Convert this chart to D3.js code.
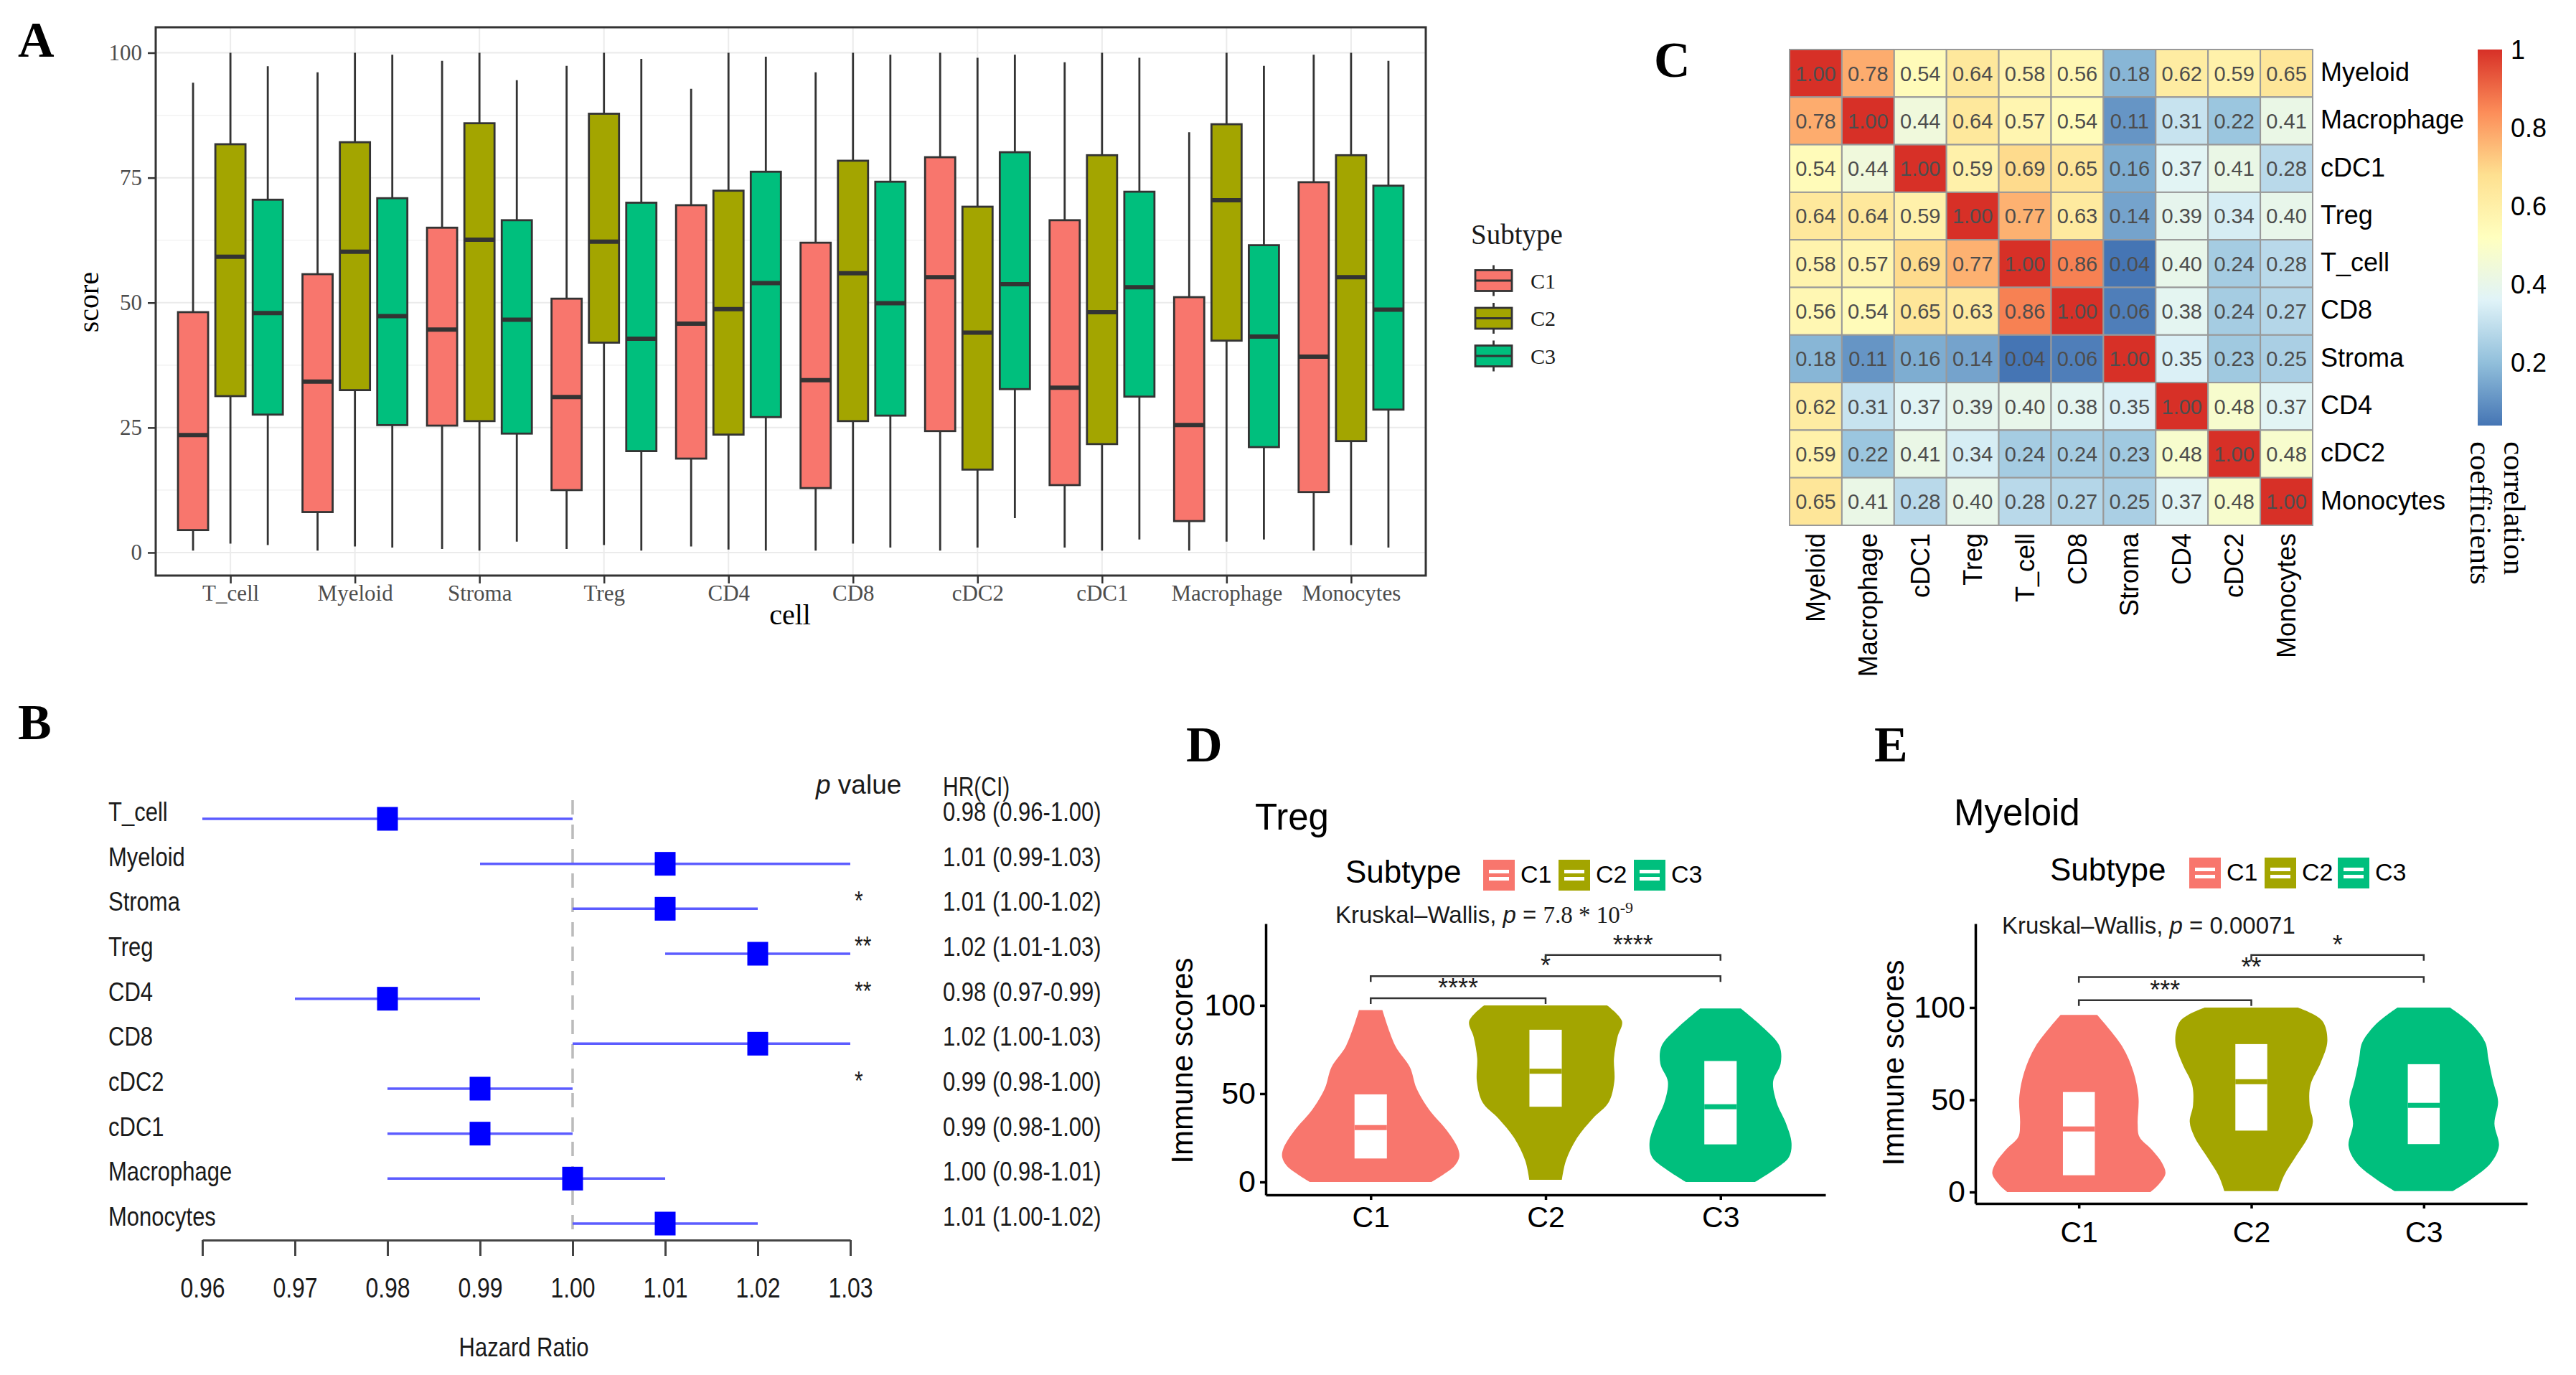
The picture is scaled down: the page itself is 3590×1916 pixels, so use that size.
<!DOCTYPE html>
<html>
<head>
<meta charset="utf-8">
<script src="https://cdn.jsdelivr.net/npm/d3@7"></script>
<style>
  body { margin: 0; background: #fff; }
</style>
</head>
<body>
<svg id="fig"></svg>
<script>

// ---------------- data ----------------
const cells = ["T_cell", "Myeloid", "Stroma", "Treg", "CD4", "CD8", "cDC2", "cDC1", "Macrophage", "Monocytes"];
const subtypes = ["C1", "C2", "C3"];
const subtypeColors = ["#F8766D", "#A3A500", "#00BF7D"];

// [min, q1, median, q3, max] per cell, same order as cells
const boxC1 = [[0.4, 4.5, 23.5, 48.1, 94.0], [0.4, 8.1, 34.2, 55.7, 96.1], [0.7, 25.4, 44.6, 65.0, 98.4],
  [0.7, 12.5, 31.1, 50.8, 97.4], [1.2, 18.8, 45.8, 69.5, 92.8], [0.4, 12.9, 34.5, 62.0, 96.1],
  [0.4, 24.3, 55.1, 79.1, 100], [1.0, 13.5, 33.0, 66.5, 98.1], [0.4, 6.3, 25.5, 51.1, 84.1],
  [0.4, 12.1, 39.2, 74.1, 99.6]];
const boxC2 = [[1.8, 31.3, 59.2, 81.7, 100], [1.2, 32.5, 60.2, 82.1, 100], [0.4, 26.3, 62.6, 85.9, 100],
  [1.5, 42.0, 62.2, 87.8, 100], [0.6, 23.6, 48.7, 72.4, 100], [1.8, 26.3, 55.9, 78.4, 100],
  [1.0, 16.6, 44.0, 69.2, 99.0], [0.4, 21.7, 48.1, 79.5, 100], [2.2, 42.4, 70.5, 85.7, 100],
  [1.5, 22.3, 55.1, 79.5, 100]];
const boxC3 = [[1.5, 27.6, 47.9, 70.6, 97.3], [1.0, 25.5, 47.3, 70.9, 99.6], [2.2, 23.8, 46.6, 66.5, 94.5],
  [0.4, 20.3, 42.8, 70.0, 98.8], [0.4, 27.1, 53.9, 76.2, 99.2], [1.0, 27.4, 49.9, 74.2, 99.6],
  [6.9, 32.7, 53.7, 80.1, 99.6], [2.6, 31.2, 53.1, 72.2, 99.0], [2.6, 21.1, 43.2, 61.5, 97.4],
  [1.0, 28.6, 48.6, 73.4, 98.4]];
const scoreTicks = [0, 25, 50, 75, 100];
const scoreMinor = [12.5, 37.5, 62.5, 87.5];

// forest plot (same order as cells)
const hr     = [0.98, 1.01, 1.01, 1.02, 0.98, 1.02, 0.99, 0.99, 1.00, 1.01];
const hrLow  = [0.96, 0.99, 1.00, 1.01, 0.97, 1.00, 0.98, 0.98, 0.98, 1.00];
const hrHigh = [1.00, 1.03, 1.02, 1.03, 0.99, 1.03, 1.00, 1.00, 1.01, 1.02];
const pStars = ["", "", "*", "**", "**", "", "*", "", "", ""];
const hrTicks = [0.96, 0.97, 0.98, 0.99, 1.00, 1.01, 1.02, 1.03];

// correlation heatmap
const corrLabels = ["Myeloid", "Macrophage", "cDC1", "Treg", "T_cell", "CD8", "Stroma", "CD4", "cDC2", "Monocytes"];
const corrMatrix = [
  [1.00, 0.78, 0.54, 0.64, 0.58, 0.56, 0.18, 0.62, 0.59, 0.65],
  [0.78, 1.00, 0.44, 0.64, 0.57, 0.54, 0.11, 0.31, 0.22, 0.41],
  [0.54, 0.44, 1.00, 0.59, 0.69, 0.65, 0.16, 0.37, 0.41, 0.28],
  [0.64, 0.64, 0.59, 1.00, 0.77, 0.63, 0.14, 0.39, 0.34, 0.40],
  [0.58, 0.57, 0.69, 0.77, 1.00, 0.86, 0.04, 0.40, 0.24, 0.28],
  [0.56, 0.54, 0.65, 0.63, 0.86, 1.00, 0.06, 0.38, 0.24, 0.27],
  [0.18, 0.11, 0.16, 0.14, 0.04, 0.06, 1.00, 0.35, 0.23, 0.25],
  [0.62, 0.31, 0.37, 0.39, 0.40, 0.38, 0.35, 1.00, 0.48, 0.37],
  [0.59, 0.22, 0.41, 0.34, 0.24, 0.24, 0.23, 0.48, 1.00, 0.48],
  [0.65, 0.41, 0.28, 0.40, 0.28, 0.27, 0.25, 0.37, 0.48, 1.00]];
const corrColors = ["#4575B4", "#91BFDB", "#E0F3F8", "#FFFFBF", "#FEE090", "#FC8D59", "#D73027"];
const corrLegendTicks = [0.2, 0.4, 0.6, 0.8, 1];

// violins: [score, half width as share of the group step]
const tregViolin = [
  [[0, 0.347], [9, 0.478], [14, 0.506], [19, 0.499], [29, 0.437], [41, 0.334], [53, 0.262], [65, 0.224], [77, 0.141], [97.3, 0.067]],
  [[1.2, 0.093], [12, 0.116], [25, 0.18], [36, 0.27], [45, 0.36], [57, 0.393], [70, 0.391], [82, 0.411], [91, 0.437], [100, 0.352]],
  [[0, 0.198], [7, 0.308], [14, 0.391], [22, 0.406], [33, 0.375], [45, 0.321], [57, 0.301], [67, 0.344], [77, 0.337], [87, 0.249], [98.3, 0.116]]];
const tregBox = [[13.3, 30.8, 49.6], [42.6, 62.7, 86.2], [21.3, 42.6, 68.5]];
const tregBrackets = [["C1", "C2", 104, "****"], ["C1", "C3", 116.5, "*"], ["C2", "C3", 128.5, "****"]];

const myeloidViolin = [
  [[0, 0.415], [4, 0.462], [10, 0.502], [16, 0.481], [23, 0.423], [30, 0.351], [37, 0.341], [51, 0.346], [65, 0.317], [79, 0.251], [96, 0.106]],
  [[0.5, 0.156], [9, 0.19], [19, 0.256], [30, 0.33], [38, 0.357], [47, 0.338], [58, 0.343], [70, 0.402], [82, 0.441], [93, 0.41], [100, 0.27]],
  [[0.5, 0.169], [7, 0.277], [16, 0.391], [25, 0.436], [37, 0.41], [49, 0.431], [60, 0.402], [72, 0.375], [81, 0.357], [91, 0.277], [100, 0.153]]];
const myeloidBox = [[9.1, 34.2, 54.2], [33.3, 59.8, 80.2], [26.0, 47.0, 69.3]];
const myeloidBrackets = [["C1", "C2", 104, "***"], ["C1", "C3", 116.5, "**"], ["C2", "C3", 128.5, "*"]];
const immuneTicks = [0, 50, 100];

// ---------------- setup ----------------
const W = 3590, H = 1916;
const SERIF = "'Liberation Serif','Times New Roman',serif";
const SANS = "'Liberation Sans',Arial,Helvetica,sans-serif";

const svg = d3.select("#fig").attr("width", W).attr("height", H);
svg.append("rect").attr("width", W).attr("height", H).attr("fill", "#fff");

function panelLabel(t, x, y) {
  svg.append("text").attr("x", x).attr("y", y).text(t)
     .attr("font-family", SERIF).attr("font-weight", "bold").attr("font-size", 70).attr("fill", "#000");
}
panelLabel("A", 25, 79);
panelLabel("B", 25, 1030);
panelLabel("C", 2305, 107);
panelLabel("D", 1653, 1061);
panelLabel("E", 2612, 1061);

// ---------------- panel A ----------------
const gA = svg.append("g");
const xA = d3.scalePoint().domain(cells).range([217, 1987]).padding(0.6);
const yA = d3.scaleLinear().domain([-4.6, 105.1]).range([802, 38]);
const stepA = xA.step();

gA.selectAll(".gminor").data(scoreMinor).join("line").attr("class", "gminor")
  .attr("x1", 217).attr("x2", 1987).attr("y1", d => yA(d)).attr("y2", d => yA(d))
  .attr("stroke", "#F0F0F0").attr("stroke-width", 1.2);
gA.selectAll(".gmajor").data(scoreTicks).join("line").attr("class", "gmajor")
  .attr("x1", 217).attr("x2", 1987).attr("y1", d => yA(d)).attr("y2", d => yA(d))
  .attr("stroke", "#EBEBEB").attr("stroke-width", 2);
gA.selectAll(".gvert").data(cells).join("line").attr("class", "gvert")
  .attr("x1", d => xA(d)).attr("x2", d => xA(d)).attr("y1", 38).attr("y2", 802)
  .attr("stroke", "#EBEBEB").attr("stroke-width", 2);

const boxSets = [boxC1, boxC2, boxC3];
const dodgeA = [-0.3, 0, 0.3];
const bwA = 0.242 * stepA;
boxSets.forEach((set, k) => {
  const items = gA.append("g").selectAll("g").data(set).join("g")
    .attr("transform", (d, i) => `translate(${xA(cells[i]) + dodgeA[k] * stepA},0)`);
  items.append("line")
    .attr("y1", d => yA(d[0])).attr("y2", d => yA(d[4]))
    .attr("stroke", "#333").attr("stroke-width", 2.8);
  items.append("rect")
    .attr("x", -bwA / 2).attr("width", bwA)
    .attr("y", d => yA(d[3])).attr("height", d => yA(d[1]) - yA(d[3]))
    .attr("fill", subtypeColors[k]).attr("stroke", "#333").attr("stroke-width", 2.8);
  items.append("line")
    .attr("x1", -bwA / 2).attr("x2", bwA / 2)
    .attr("y1", d => yA(d[2])).attr("y2", d => yA(d[2]))
    .attr("stroke", "#333").attr("stroke-width", 6);
});

gA.append("rect").attr("x", 217).attr("y", 38).attr("width", 1770).attr("height", 764)
  .attr("fill", "none").attr("stroke", "#333").attr("stroke-width", 3);

const axLA = gA.append("g").attr("transform", "translate(217,0)")
  .call(d3.axisLeft(yA).tickValues(scoreTicks).tickSize(11).tickPadding(8));
axLA.select(".domain").remove();
axLA.attr("font-family", SERIF).attr("font-size", 31);
axLA.selectAll("line").attr("stroke", "#333").attr("stroke-width", 2.5);
axLA.selectAll("text").attr("fill", "#4D4D4D");

const axBA = gA.append("g").attr("transform", "translate(0,802)")
  .call(d3.axisBottom(xA).tickSize(11));
axBA.select(".domain").remove();
axBA.attr("font-family", SERIF).attr("font-size", 31);
axBA.selectAll("line").attr("stroke", "#333").attr("stroke-width", 2.5);
axBA.selectAll("text").attr("fill", "#4D4D4D").attr("y", 35).attr("dy", 0);

gA.append("text").attr("x", 1101).attr("y", 870).attr("text-anchor", "middle")
  .attr("font-family", SERIF).attr("font-size", 40).text("cell");
gA.append("text").attr("transform", "translate(123,421) rotate(-90)").attr("dy", "0.35em")
  .attr("text-anchor", "middle").attr("font-family", SERIF).attr("font-size", 40).text("score");

// legend A
const legA = gA.append("g");
legA.append("text").attr("x", 2050).attr("y", 340).attr("font-family", SERIF).attr("font-size", 39)
  .attr("fill", "#1a1a1a").text("Subtype");
const legAItems = legA.selectAll(".lk").data(subtypes).join("g").attr("class", "lk")
  .attr("transform", (d, i) => `translate(2081.5,${391 + i * 52.5})`);
legAItems.append("line").attr("y1", -21.5).attr("y2", 21.5).attr("stroke", "#333").attr("stroke-width", 2.8);
legAItems.append("rect").attr("x", -25.5).attr("y", -14.5).attr("width", 51).attr("height", 29)
  .attr("fill", (d, i) => subtypeColors[i]).attr("stroke", "#333").attr("stroke-width", 2.8);
legAItems.append("line").attr("x1", -25.5).attr("x2", 25.5).attr("stroke", "#333").attr("stroke-width", 3);
legAItems.append("text").attr("x", 51.5).attr("y", 10.5).attr("font-family", SERIF).attr("font-size", 30)
  .attr("fill", "#1a1a1a").text(d => d);

// ---------------- panel B ----------------
const gB = svg.append("g");
const xB = d3.scaleLinear().domain([0.96, 1.03]).range([282, 1185]);
const yB = d3.scalePoint().domain(cells).range([1141, 1705]);
const SY = 1.2;

function stretched(g, x, y, str, size, anchor) {
  return g.append("text").attr("transform", `translate(${x},${y}) scale(1,${SY})`)
    .attr("text-anchor", anchor || "start").attr("font-family", SANS).attr("font-size", size)
    .attr("fill", "#1a1a1a").text(str);
}

gB.append("line").attr("x1", xB(1)).attr("x2", xB(1)).attr("y1", 1115).attr("y2", 1728)
  .attr("stroke", "#BBBBBB").attr("stroke-width", 3.5).attr("stroke-dasharray", "20,14");

gB.selectAll(".ci").data(cells).join("line").attr("class", "ci")
  .attr("x1", (d, i) => xB(hrLow[i])).attr("x2", (d, i) => xB(hrHigh[i]))
  .attr("y1", d => yB(d)).attr("y2", d => yB(d))
  .attr("stroke", "#5C5CFF").attr("stroke-width", 3.5);
gB.selectAll(".pt").data(cells).join("rect").attr("class", "pt")
  .attr("x", (d, i) => xB(hr[i]) - 14.5).attr("y", d => yB(d) - 16.5)
  .attr("width", 29).attr("height", 33).attr("fill", "#0000FF");

cells.forEach((c, i) => {
  stretched(gB, 151, yB(c) + 3, c, 31);
  if (pStars[i]) stretched(gB, 1191, yB(c) + 2, pStars[i], 30);
  stretched(gB, 1314, yB(c) + 3,
    `${hr[i].toFixed(2)} (${hrLow[i].toFixed(2)}-${hrHigh[i].toFixed(2)})`, 31);
});

const pv = gB.append("text").attr("x", 1137).attr("y", 1106).attr("font-family", SANS)
  .attr("font-size", 37).attr("fill", "#1a1a1a");
pv.append("tspan").attr("font-style", "italic").text("p");
pv.append("tspan").text(" value");
stretched(gB, 1314, 1109, "HR(CI)", 30);

const axB = gB.append("g").attr("transform", "translate(0,1728)")
  .call(d3.axisBottom(xB).tickValues(hrTicks).tickSize(22).tickSizeOuter(0).tickFormat(d3.format(".2f")));
axB.attr("font-family", SANS).attr("font-size", 32);
axB.select(".domain").attr("stroke", "#444").attr("stroke-width", 3);
axB.selectAll(".tick line").attr("stroke", "#444").attr("stroke-width", 3);
axB.selectAll("text").attr("fill", "#1a1a1a").attr("y", 0).attr("dy", 0)
  .attr("transform", `translate(0,80) scale(1,${SY})`);
stretched(gB, 730, 1890, "Hazard Ratio", 31, "middle");

// ---------------- panel C ----------------
const gC = svg.append("g");
const xC = d3.scaleBand().domain(corrLabels).range([2494, 3223]);
const yC = d3.scaleBand().domain(corrLabels).range([69, 732]);
const cMin = d3.min(corrMatrix.flat()), cMax = d3.max(corrMatrix.flat());
const colorC = d3.scaleLinear()
  .domain(corrColors.map((c, i) => cMin + i * (cMax - cMin) / (corrColors.length - 1)))
  .range(corrColors).interpolate(d3.interpolateRgb);

const cellData = corrMatrix.flatMap((row, r) => row.map((v, c) => ({ r: corrLabels[r], c: corrLabels[c], v })));
gC.selectAll(".hc").data(cellData).join("rect").attr("class", "hc")
  .attr("x", d => xC(d.c)).attr("y", d => yC(d.r))
  .attr("width", xC.bandwidth()).attr("height", yC.bandwidth())
  .attr("fill", d => colorC(d.v)).attr("stroke", "#999999").attr("stroke-width", 2);
gC.selectAll(".hv").data(cellData).join("text").attr("class", "hv")
  .attr("x", d => xC(d.c) + xC.bandwidth() / 2).attr("y", d => yC(d.r) + yC.bandwidth() / 2)
  .attr("dy", "0.36em").attr("text-anchor", "middle").attr("font-family", SANS).attr("font-size", 29)
  .attr("fill", "#4D4D4D").text(d => d3.format(".2f")(d.v));

gC.selectAll(".rl").data(corrLabels).join("text").attr("class", "rl")
  .attr("x", 3234).attr("y", d => yC(d) + yC.bandwidth() / 2).attr("dy", "0.3em")
  .attr("font-family", SANS).attr("font-size", 36).attr("fill", "#000").text(d => d);
gC.selectAll(".cl").data(corrLabels).join("text").attr("class", "cl")
  .attr("transform", d => `translate(${xC(d) + xC.bandwidth() / 2},743) rotate(-90)`)
  .attr("dy", "0.35em").attr("text-anchor", "end")
  .attr("font-family", SANS).attr("font-size", 36).attr("fill", "#000").text(d => d);

const yLeg = d3.scaleLinear().domain([cMin, cMax]).range([593, 69]);
const grad = svg.append("defs").append("linearGradient").attr("id", "corrGrad")
  .attr("x1", 0).attr("y1", 1).attr("x2", 0).attr("y2", 0);
grad.selectAll("stop").data(corrColors).join("stop")
  .attr("offset", (d, i) => i / (corrColors.length - 1)).attr("stop-color", d => d);
gC.append("rect").attr("x", 3453).attr("y", yLeg(cMax)).attr("width", 34)
  .attr("height", yLeg(cMin) - yLeg(cMax)).attr("fill", "url(#corrGrad)");
gC.selectAll(".lt").data(corrLegendTicks).join("text").attr("class", "lt")
  .attr("x", 3499).attr("y", d => yLeg(d)).attr("dy", "0.35em")
  .attr("font-family", SANS).attr("font-size", 36).attr("fill", "#000").text(d => String(d));
gC.append("text").attr("transform", "translate(3490,615) rotate(90)")
  .attr("font-family", SERIF).attr("font-size", 43).text("correlation");
gC.append("text").attr("transform", "translate(3443,615) rotate(90)")
  .attr("font-family", SERIF).attr("font-size", 43).text("coefficients");

// ---------------- panels D and E ----------------
function violinPanel(cfg) {
  const g = svg.append("g");
  const x = d3.scalePoint().domain(subtypes).range([cfg.x0, cfg.x1]).padding(0.6);
  const y = d3.scaleLinear().domain(cfg.yDomain).range([cfg.yBottom, cfg.yTop]);
  const step = x.step();
  const bw = 0.185 * step;

  cfg.violins.forEach((v, k) => {
    const cx = x(subtypes[k]);
    const area = d3.area().curve(d3.curveCatmullRom.alpha(0.5))
      .y(d => y(d[0])).x0(d => cx - d[1] * step).x1(d => cx + d[1] * step);
    g.append("path").datum(v).attr("d", area).attr("fill", subtypeColors[k]);
    const b = cfg.boxes[k];
    g.append("rect").attr("x", cx - bw / 2).attr("width", bw)
      .attr("y", y(b[2])).attr("height", y(b[0]) - y(b[2])).attr("fill", "#fff");
    g.append("rect").attr("x", cx - bw / 2).attr("width", bw)
      .attr("y", y(b[1]) - 3.5).attr("height", 7).attr("fill", subtypeColors[k]);
  });

  // brackets
  cfg.brackets.forEach(([a, b, v, lab]) => {
    g.append("path")
      .attr("d", `M${x(a)},${y(v) + 8}V${y(v)}H${x(b)}V${y(v) + 8}`)
      .attr("fill", "none").attr("stroke", "#333").attr("stroke-width", 2.5);
    g.append("text").attr("x", (x(a) + x(b)) / 2).attr("y", y(v) - 2).attr("text-anchor", "middle")
      .attr("font-family", SANS).attr("font-size", 36).attr("fill", "#1a1a1a").text(lab);
  });

  const axL = g.append("g").attr("transform", `translate(${cfg.x0},0)`)
    .call(d3.axisLeft(y).tickValues(immuneTicks).tickSize(8).tickPadding(6).tickSizeOuter(0));
  axL.attr("font-family", SANS).attr("font-size", 43);
  axL.selectAll("path,line").attr("stroke", "#000").attr("stroke-width", 3.5);
  axL.selectAll("text").attr("fill", "#000");

  const axX = g.append("g").attr("transform", `translate(0,${cfg.yBottom})`)
    .call(d3.axisBottom(x).tickSize(7).tickSizeOuter(0));
  axX.attr("font-family", SANS).attr("font-size", 41);
  axX.selectAll("path,line").attr("stroke", "#000").attr("stroke-width", 3.5);
  axX.selectAll("text").attr("fill", "#000").attr("y", cfg.xLabelOffset).attr("dy", 0);

  g.append("text").attr("transform", `translate(${cfg.yLabelX},${cfg.yLabelY}) rotate(-90)`)
    .attr("dy", "0.35em").attr("text-anchor", "middle")
    .attr("font-family", SANS).attr("font-size", 42).attr("fill", "#000").text("Immune scores");

  g.append("text").attr("x", cfg.titleX).attr("y", cfg.titleY)
    .attr("font-family", SANS).attr("font-size", 51).attr("fill", "#000").text(cfg.title);

  // legend
  g.append("text").attr("x", cfg.legX).attr("y", cfg.legY)
    .attr("font-family", SANS).attr("font-size", 44).attr("fill", "#000").text("Subtype");
  subtypes.forEach((s, k) => {
    const kx = cfg.keyX[k], ky = cfg.legY - 32;
    g.append("rect").attr("x", kx).attr("y", ky).attr("width", 44).attr("height", 43).attr("fill", subtypeColors[k]);
    g.append("rect").attr("x", kx + 8).attr("y", ky + 14).attr("width", 28).attr("height", 15).attr("fill", "#fff");
    g.append("rect").attr("x", kx + 8).attr("y", ky + 19).attr("width", 28).attr("height", 5).attr("fill", subtypeColors[k]);
    g.append("text").attr("x", kx + 52).attr("y", cfg.legY)
      .attr("font-family", SANS).attr("font-size", 34).attr("fill", "#000").text(s);
  });

  // Kruskal-Wallis note
  const kw = g.append("text").attr("x", cfg.kwX).attr("y", cfg.kwY)
    .attr("font-family", SANS).attr("font-size", 33).attr("fill", "#1a1a1a");
  kw.append("tspan").text("Kruskal\u2013Wallis, ");
  kw.append("tspan").attr("font-style", "italic").text("p");
  kw.append("tspan").text(" = ");
  cfg.kwValue(kw);
}

violinPanel({
  x0: 1764, x1: 2544, yTop: 1287, yBottom: 1665, yDomain: [-7.3, 146.3],
  violins: tregViolin, boxes: tregBox, brackets: tregBrackets,
  xLabelOffset: 45, yLabelX: 1647, yLabelY: 1478,
  title: "Treg", titleX: 1749, titleY: 1156,
  legX: 1875, legY: 1230, keyX: [2067, 2172, 2277],
  kwX: 1861, kwY: 1286,
  kwValue: t => {
    t.append("tspan").attr("font-family", SERIF).text("7.8 * 10");
    t.append("tspan").attr("font-family", SERIF).attr("font-size", 22).attr("dy", -14).text("-9");
  }
});

violinPanel({
  x0: 2753, x1: 3522, yTop: 1287, yBottom: 1677, yDomain: [-6.2, 145.5],
  violins: myeloidViolin, boxes: myeloidBox, brackets: myeloidBrackets,
  xLabelOffset: 54, yLabelX: 2638, yLabelY: 1481,
  title: "Myeloid", titleX: 2723, titleY: 1150,
  legX: 2857, legY: 1227, keyX: [3051, 3156, 3258],
  kwX: 2790, kwY: 1301,
  kwValue: t => { t.append("tspan").text("0.00071"); }
});

</script>
</body>
</html>
